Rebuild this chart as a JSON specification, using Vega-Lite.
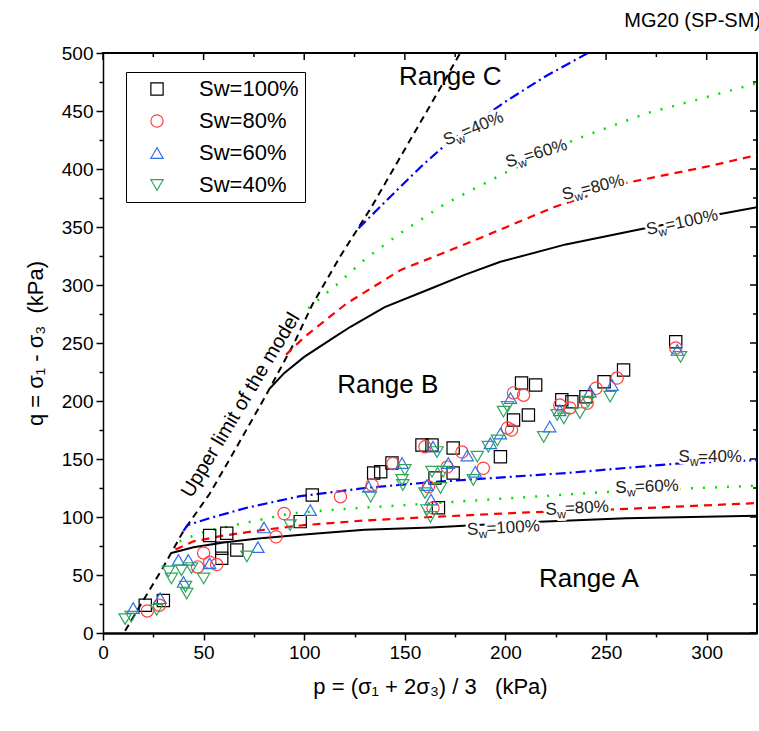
{
  "$schema": "https://vega.github.io/schema/vega-lite/v6.json",
  "width": 654,
  "height": 580,
  "autosize": {"type": "none"},
  "padding": {"left": 103, "top": 53, "right": 2, "bottom": 98},
  "background": "white",
  "config": {"font": "Liberation Sans", "view": {"stroke": null}},
  "title": {"text": "MG20 (SP-SM)", "anchor": "end", "fontSize": 20, "fontWeight": "normal", "color": "black", "offset": 13},
  "resolve": {"scale": {"x": "independent", "y": "independent"}, "axis": {"x": "independent", "y": "independent"}},
  "datasets": {
    "frame": [{"k": 1, "p": 0, "q": 500}, {"k": 2, "p": 325, "q": 500}, {"k": 3, "p": 325, "q": 0}],
    "topMajor": [{"p": 0, "q": 500}, {"p": 50, "q": 500}, {"p": 100, "q": 500}, {"p": 150, "q": 500}, {"p": 200, "q": 500}, {"p": 250, "q": 500}, {"p": 300, "q": 500}],
    "topMinor": [{"p": 25, "q": 500}, {"p": 75, "q": 500}, {"p": 125, "q": 500}, {"p": 175, "q": 500}, {"p": 225, "q": 500}, {"p": 275, "q": 500}],
    "rightMajor": [{"p": 325, "q": 0}, {"p": 325, "q": 50}, {"p": 325, "q": 100}, {"p": 325, "q": 150}, {"p": 325, "q": 200}, {"p": 325, "q": 250}, {"p": 325, "q": 300}, {"p": 325, "q": 350}, {"p": 325, "q": 400}, {"p": 325, "q": 450}, {"p": 325, "q": 500}],
    "rightMinor": [{"p": 325, "q": 25}, {"p": 325, "q": 75}, {"p": 325, "q": 125}, {"p": 325, "q": 175}, {"p": 325, "q": 225}, {"p": 325, "q": 275}, {"p": 325, "q": 325}, {"p": 325, "q": 375}, {"p": 325, "q": 425}, {"p": 325, "q": 475}],
    "upper": [
      {"p": 11, "q": 2}, {"p": 20, "q": 28}, {"p": 30, "q": 57}, {"p": 40, "q": 88}, {"p": 53, "q": 120},
      {"p": 65, "q": 156}, {"p": 81, "q": 205}, {"p": 95, "q": 250}, {"p": 104, "q": 283}, {"p": 118, "q": 325},
      {"p": 133, "q": 366}, {"p": 149, "q": 414}, {"p": 160, "q": 447}, {"p": 170, "q": 477}, {"p": 177.5, "q": 500}
    ],
    "c100": [
      {"seg": "u", "p": 83, "q": 211}, {"seg": "u", "p": 90, "q": 224}, {"seg": "u", "p": 100, "q": 238}, {"seg": "u", "p": 115, "q": 255},
      {"seg": "u", "p": 123, "q": 264}, {"seg": "u", "p": 140, "q": 281}, {"seg": "u", "p": 163, "q": 297}, {"seg": "u", "p": 180, "q": 309},
      {"seg": "u", "p": 197.5, "q": 320}, {"seg": "u", "p": 230, "q": 335}, {"seg": "u", "p": 267, "q": 348}, {"seg": "u", "p": 300, "q": 359},
      {"seg": "u", "p": 325, "q": 367},
      {"seg": "l", "p": 34, "q": 69}, {"seg": "l", "p": 45, "q": 74}, {"seg": "l", "p": 60, "q": 78}, {"seg": "l", "p": 80, "q": 82},
      {"seg": "l", "p": 100, "q": 85}, {"seg": "l", "p": 130, "q": 89}, {"seg": "l", "p": 163, "q": 91}, {"seg": "l", "p": 217, "q": 96},
      {"seg": "l", "p": 260, "q": 99}, {"seg": "l", "p": 325, "q": 101}
    ],
    "c80": [
      {"seg": "u", "p": 91, "q": 240}, {"seg": "u", "p": 100, "q": 255}, {"seg": "u", "p": 121, "q": 284}, {"seg": "u", "p": 148, "q": 313},
      {"seg": "u", "p": 184, "q": 338}, {"seg": "u", "p": 224, "q": 367}, {"seg": "u", "p": 260, "q": 388}, {"seg": "u", "p": 300, "q": 402},
      {"seg": "u", "p": 325, "q": 412},
      {"seg": "l", "p": 36, "q": 72}, {"seg": "l", "p": 45, "q": 79}, {"seg": "l", "p": 60, "q": 84}, {"seg": "l", "p": 80, "q": 89},
      {"seg": "l", "p": 100, "q": 93}, {"seg": "l", "p": 130, "q": 97}, {"seg": "l", "p": 163, "q": 100}, {"seg": "l", "p": 211, "q": 104},
      {"seg": "l", "p": 260, "q": 107}, {"seg": "l", "p": 325, "q": 112}
    ],
    "c60": [
      {"seg": "u", "p": 102, "q": 280}, {"seg": "u", "p": 111, "q": 293}, {"seg": "u", "p": 116, "q": 300}, {"seg": "u", "p": 130, "q": 322},
      {"seg": "u", "p": 148, "q": 345}, {"seg": "u", "p": 170, "q": 370}, {"seg": "u", "p": 199, "q": 396}, {"seg": "u", "p": 234, "q": 425},
      {"seg": "u", "p": 270, "q": 448}, {"seg": "u", "p": 300, "q": 462}, {"seg": "u", "p": 325, "q": 474},
      {"seg": "l", "p": 38, "q": 79}, {"seg": "l", "p": 45, "q": 84}, {"seg": "l", "p": 52, "q": 88}, {"seg": "l", "p": 68, "q": 94},
      {"seg": "l", "p": 93, "q": 103}, {"seg": "l", "p": 120, "q": 107}, {"seg": "l", "p": 148, "q": 110}, {"seg": "l", "p": 200, "q": 116},
      {"seg": "l", "p": 254, "q": 122}, {"seg": "l", "p": 325, "q": 127}
    ],
    "c40": [
      {"seg": "u", "p": 127, "q": 349}, {"seg": "u", "p": 148, "q": 385}, {"seg": "u", "p": 158, "q": 402}, {"seg": "u", "p": 169, "q": 419},
      {"seg": "u", "p": 199, "q": 457}, {"seg": "u", "p": 220, "q": 480}, {"seg": "u", "p": 241, "q": 500},
      {"seg": "l", "p": 40, "q": 88}, {"seg": "l", "p": 42, "q": 93}, {"seg": "l", "p": 53, "q": 99}, {"seg": "l", "p": 71.5, "q": 108},
      {"seg": "l", "p": 98, "q": 118}, {"seg": "l", "p": 130, "q": 125}, {"seg": "l", "p": 163, "q": 130}, {"seg": "l", "p": 231, "q": 138},
      {"seg": "l", "p": 285, "q": 146}, {"seg": "l", "p": 325, "q": 149}
    ],
    "pts": [
      {"sw": "Sw=100%", "p": 21, "q": 24}, {"sw": "Sw=100%", "p": 30, "q": 28}, {"sw": "Sw=100%", "p": 53, "q": 84}, {"sw": "Sw=100%", "p": 61.5, "q": 86},
      {"sw": "Sw=100%", "p": 59, "q": 73}, {"sw": "Sw=100%", "p": 59, "q": 64.5}, {"sw": "Sw=100%", "p": 66.5, "q": 71.6}, {"sw": "Sw=100%", "p": 98, "q": 96},
      {"sw": "Sw=100%", "p": 104, "q": 119}, {"sw": "Sw=100%", "p": 134.5, "q": 138}, {"sw": "Sw=100%", "p": 138, "q": 139}, {"sw": "Sw=100%", "p": 143.6, "q": 146.5},
      {"sw": "Sw=100%", "p": 158.5, "q": 162}, {"sw": "Sw=100%", "p": 163.5, "q": 162}, {"sw": "Sw=100%", "p": 165, "q": 133.6}, {"sw": "Sw=100%", "p": 166.7, "q": 108},
      {"sw": "Sw=100%", "p": 174, "q": 138}, {"sw": "Sw=100%", "p": 174, "q": 159.5}, {"sw": "Sw=100%", "p": 197.5, "q": 152}, {"sw": "Sw=100%", "p": 204, "q": 183.6},
      {"sw": "Sw=100%", "p": 208, "q": 215.5}, {"sw": "Sw=100%", "p": 215, "q": 213.8}, {"sw": "Sw=100%", "p": 211.4, "q": 188}, {"sw": "Sw=100%", "p": 228, "q": 201},
      {"sw": "Sw=100%", "p": 233, "q": 199.4}, {"sw": "Sw=100%", "p": 240, "q": 203.7}, {"sw": "Sw=100%", "p": 249, "q": 216.6}, {"sw": "Sw=100%", "p": 258.7, "q": 226.7},
      {"sw": "Sw=100%", "p": 284.6, "q": 251},
      {"sw": "Sw=80%", "p": 22, "q": 19}, {"sw": "Sw=80%", "p": 28, "q": 24}, {"sw": "Sw=80%", "p": 47, "q": 57}, {"sw": "Sw=80%", "p": 50, "q": 69},
      {"sw": "Sw=80%", "p": 53, "q": 61}, {"sw": "Sw=80%", "p": 56.5, "q": 59}, {"sw": "Sw=80%", "p": 86, "q": 83}, {"sw": "Sw=80%", "p": 90, "q": 103},
      {"sw": "Sw=80%", "p": 118, "q": 117.5}, {"sw": "Sw=80%", "p": 133.7, "q": 127.6}, {"sw": "Sw=80%", "p": 144, "q": 146}, {"sw": "Sw=80%", "p": 160, "q": 160.6},
      {"sw": "Sw=80%", "p": 161.7, "q": 126}, {"sw": "Sw=80%", "p": 164, "q": 107.7}, {"sw": "Sw=80%", "p": 171, "q": 143}, {"sw": "Sw=80%", "p": 178.4, "q": 156},
      {"sw": "Sw=80%", "p": 189, "q": 142}, {"sw": "Sw=80%", "p": 201, "q": 176.7}, {"sw": "Sw=80%", "p": 203, "q": 175}, {"sw": "Sw=80%", "p": 204, "q": 207},
      {"sw": "Sw=80%", "p": 209, "q": 205}, {"sw": "Sw=80%", "p": 227, "q": 196.6}, {"sw": "Sw=80%", "p": 232, "q": 194}, {"sw": "Sw=80%", "p": 240.6, "q": 198},
      {"sw": "Sw=80%", "p": 245, "q": 211}, {"sw": "Sw=80%", "p": 255.5, "q": 219.8}, {"sw": "Sw=80%", "p": 284.6, "q": 245.7},
      {"sw": "Sw=60%", "p": 15, "q": 21.5}, {"sw": "Sw=60%", "p": 28.4, "q": 30}, {"sw": "Sw=60%", "p": 37.5, "q": 63}, {"sw": "Sw=60%", "p": 42.4, "q": 63},
      {"sw": "Sw=60%", "p": 53, "q": 60}, {"sw": "Sw=60%", "p": 40, "q": 44}, {"sw": "Sw=60%", "p": 77, "q": 74}, {"sw": "Sw=60%", "p": 80, "q": 91},
      {"sw": "Sw=60%", "p": 103, "q": 106}, {"sw": "Sw=60%", "p": 132, "q": 126}, {"sw": "Sw=60%", "p": 148.6, "q": 146.5}, {"sw": "Sw=60%", "p": 161, "q": 127.6},
      {"sw": "Sw=60%", "p": 163, "q": 115}, {"sw": "Sw=60%", "p": 164, "q": 160.6}, {"sw": "Sw=60%", "p": 171.6, "q": 146.5}, {"sw": "Sw=60%", "p": 181, "q": 153},
      {"sw": "Sw=60%", "p": 185, "q": 139}, {"sw": "Sw=60%", "p": 192.5, "q": 163.6}, {"sw": "Sw=60%", "p": 197.5, "q": 172}, {"sw": "Sw=60%", "p": 202.5, "q": 202.6},
      {"sw": "Sw=60%", "p": 222, "q": 178}, {"sw": "Sw=60%", "p": 227, "q": 192}, {"sw": "Sw=60%", "p": 242, "q": 208}, {"sw": "Sw=60%", "p": 253, "q": 213.8},
      {"sw": "Sw=60%", "p": 285.4, "q": 244},
      {"sw": "Sw=40%", "p": 11, "q": 12}, {"sw": "Sw=40%", "p": 14, "q": 14}, {"sw": "Sw=40%", "p": 26.7, "q": 20}, {"sw": "Sw=40%", "p": 32.5, "q": 53},
      {"sw": "Sw=40%", "p": 34, "q": 47}, {"sw": "Sw=40%", "p": 39, "q": 54}, {"sw": "Sw=40%", "p": 41, "q": 40}, {"sw": "Sw=40%", "p": 41.6, "q": 34},
      {"sw": "Sw=40%", "p": 44, "q": 56}, {"sw": "Sw=40%", "p": 50, "q": 47}, {"sw": "Sw=40%", "p": 71.5, "q": 66}, {"sw": "Sw=40%", "p": 93, "q": 93},
      {"sw": "Sw=40%", "p": 133, "q": 117.5}, {"sw": "Sw=40%", "p": 148.6, "q": 132}, {"sw": "Sw=40%", "p": 150, "q": 140.5}, {"sw": "Sw=40%", "p": 149, "q": 127.6},
      {"sw": "Sw=40%", "p": 160, "q": 120.6}, {"sw": "Sw=40%", "p": 161, "q": 106}, {"sw": "Sw=40%", "p": 162.7, "q": 100}, {"sw": "Sw=40%", "p": 163.5, "q": 139},
      {"sw": "Sw=40%", "p": 166, "q": 156}, {"sw": "Sw=40%", "p": 167.7, "q": 125}, {"sw": "Sw=40%", "p": 169, "q": 139}, {"sw": "Sw=40%", "p": 184, "q": 132},
      {"sw": "Sw=40%", "p": 186, "q": 152}, {"sw": "Sw=40%", "p": 191.5, "q": 160.6}, {"sw": "Sw=40%", "p": 196, "q": 166}, {"sw": "Sw=40%", "p": 199, "q": 190.8},
      {"sw": "Sw=40%", "p": 201, "q": 195}, {"sw": "Sw=40%", "p": 219, "q": 169}, {"sw": "Sw=40%", "p": 225.7, "q": 188}, {"sw": "Sw=40%", "p": 229, "q": 185},
      {"sw": "Sw=40%", "p": 237, "q": 189.6}, {"sw": "Sw=40%", "p": 241, "q": 199.4}, {"sw": "Sw=40%", "p": 252, "q": 203.7}, {"sw": "Sw=40%", "p": 287, "q": 238}
    ],
    "ranges": [
      {"p": 172.6, "q": 472, "t": "Range C"},
      {"p": 141.5, "q": 207, "t": "Range B"},
      {"p": 241.5, "q": 39.7, "t": "Range A"}
    ],
    "note": [{"p": 68.4, "q": 196.5, "t": "Upper limit of the model"}],
    "labels": [
      {"id": "u40", "p": 170.6, "q": 420, "t": "=40%"},
      {"id": "u60", "p": 201, "q": 401, "t": "=60%"},
      {"id": "u80", "p": 228.9, "q": 373, "t": "=80%"},
      {"id": "u100", "p": 270.6, "q": 343, "t": "=100%"},
      {"id": "l40", "p": 286, "q": 147.4, "t": "=40%"},
      {"id": "l60", "p": 254.7, "q": 120.7, "t": "=60%"},
      {"id": "l80", "p": 220, "q": 101.7, "t": "=80%"},
      {"id": "l100", "p": 181, "q": 84.5, "t": "=100%"}
    ]
  },
  "layer": [
    {
      "data": {"name": "upper"},
      "mark": {"type": "line", "color": "black", "strokeWidth": 2, "strokeDash": [7, 5], "clip": true},
      "encoding": {
        "x": {"field": "p", "type": "quantitative", "scale": {"domain": [0, 325], "nice": false, "zero": false},
          "axis": {"orient": "bottom", "title": "p = (σ₁ + 2σ₃) / 3\u00a0\u00a0\u00a0(kPa)",
            "values": [0, 25, 50, 75, 100, 125, 150, 175, 200, 225, 250, 275, 300],
            "labelExpr": "datum.value % 50 === 0 ? datum.label : ''",
            "tickSize": {"condition": {"test": "datum.value % 50 === 0", "value": 7}, "value": 4},
            "grid": false, "domainColor": "black", "domainWidth": 2.5, "tickColor": "black", "tickWidth": 1.5,
            "labelFontSize": 19, "labelColor": "black", "labelPadding": 3, "labelFlush": false, "labelOverlap": false,
            "titleFontSize": 22, "titleFontWeight": "normal", "titleColor": "black", "titlePadding": 14}},
        "y": {"field": "q", "type": "quantitative", "scale": {"domain": [0, 500], "nice": false, "zero": false},
          "axis": {"orient": "left", "title": "q = σ₁ - σ₃\u00a0\u00a0(kPa)",
            "values": [0, 25, 50, 75, 100, 125, 150, 175, 200, 225, 250, 275, 300, 325, 350, 375, 400, 425, 450, 475, 500],
            "labelExpr": "datum.value % 50 === 0 ? datum.label : ''",
            "tickSize": {"condition": {"test": "datum.value % 50 === 0", "value": 7}, "value": 4},
            "grid": false, "domainColor": "black", "domainWidth": 1.5, "tickColor": "black", "tickWidth": 1.5,
            "labelFontSize": 19, "labelColor": "black", "labelPadding": 3, "labelFlush": false, "labelOverlap": false,
            "titleFontSize": 22, "titleFontWeight": "normal", "titleColor": "black", "titlePadding": 14}}
      }
    },
    {
      "data": {"name": "frame"},
      "mark": {"type": "line", "color": "black", "strokeWidth": 2, "strokeCap": "square"},
      "encoding": {
        "x": {"field": "p", "type": "quantitative", "scale": {"domain": [0, 325], "nice": false, "zero": false}, "axis": null},
        "y": {"field": "q", "type": "quantitative", "scale": {"domain": [0, 500], "nice": false, "zero": false}, "axis": null},
        "order": {"field": "k", "type": "quantitative"}
      }
    },
    {
      "data": {"name": "topMajor"},
      "mark": {"type": "point", "shape": "M0,0L0,2", "size": 49, "filled": false, "color": "black", "strokeWidth": 1.5, "opacity": 1},
      "encoding": {
        "x": {"field": "p", "type": "quantitative", "scale": {"domain": [0, 325], "nice": false, "zero": false}, "axis": null},
        "y": {"field": "q", "type": "quantitative", "scale": {"domain": [0, 500], "nice": false, "zero": false}, "axis": null}
      }
    },
    {
      "data": {"name": "topMinor"},
      "mark": {"type": "point", "shape": "M0,0L0,2", "size": 16, "filled": false, "color": "black", "strokeWidth": 1.5, "opacity": 1},
      "encoding": {
        "x": {"field": "p", "type": "quantitative", "scale": {"domain": [0, 325], "nice": false, "zero": false}, "axis": null},
        "y": {"field": "q", "type": "quantitative", "scale": {"domain": [0, 500], "nice": false, "zero": false}, "axis": null}
      }
    },
    {
      "data": {"name": "rightMajor"},
      "mark": {"type": "point", "shape": "M0,0L-2,0", "size": 49, "filled": false, "color": "black", "strokeWidth": 1.5, "opacity": 1},
      "encoding": {
        "x": {"field": "p", "type": "quantitative", "scale": {"domain": [0, 325], "nice": false, "zero": false}, "axis": null},
        "y": {"field": "q", "type": "quantitative", "scale": {"domain": [0, 500], "nice": false, "zero": false}, "axis": null}
      }
    },
    {
      "data": {"name": "rightMinor"},
      "mark": {"type": "point", "shape": "M0,0L-2,0", "size": 16, "filled": false, "color": "black", "strokeWidth": 1.5, "opacity": 1},
      "encoding": {
        "x": {"field": "p", "type": "quantitative", "scale": {"domain": [0, 325], "nice": false, "zero": false}, "axis": null},
        "y": {"field": "q", "type": "quantitative", "scale": {"domain": [0, 500], "nice": false, "zero": false}, "axis": null}
      }
    },
    {
      "data": {"name": "c100"},
      "mark": {"type": "line", "color": "black", "strokeWidth": 2, "clip": true},
      "encoding": {
        "x": {"field": "p", "type": "quantitative", "scale": {"domain": [0, 325], "nice": false, "zero": false}, "axis": null},
        "y": {"field": "q", "type": "quantitative", "scale": {"domain": [0, 500], "nice": false, "zero": false}, "axis": null},
        "detail": {"field": "seg", "type": "nominal"}
      }
    },
    {
      "data": {"name": "c80"},
      "mark": {"type": "line", "color": "#ff0000", "strokeWidth": 2.2, "strokeDash": [8, 6], "clip": true},
      "encoding": {
        "x": {"field": "p", "type": "quantitative", "scale": {"domain": [0, 325], "nice": false, "zero": false}, "axis": null},
        "y": {"field": "q", "type": "quantitative", "scale": {"domain": [0, 500], "nice": false, "zero": false}, "axis": null},
        "detail": {"field": "seg", "type": "nominal"}
      }
    },
    {
      "data": {"name": "c60"},
      "mark": {"type": "line", "color": "#00e000", "strokeWidth": 2.5, "strokeDash": [2, 10], "clip": true},
      "encoding": {
        "x": {"field": "p", "type": "quantitative", "scale": {"domain": [0, 325], "nice": false, "zero": false}, "axis": null},
        "y": {"field": "q", "type": "quantitative", "scale": {"domain": [0, 500], "nice": false, "zero": false}, "axis": null},
        "detail": {"field": "seg", "type": "nominal"}
      }
    },
    {
      "data": {"name": "c40"},
      "mark": {"type": "line", "color": "#0000ff", "strokeWidth": 2.2, "strokeDash": [10, 4, 2, 4], "clip": true},
      "encoding": {
        "x": {"field": "p", "type": "quantitative", "scale": {"domain": [0, 325], "nice": false, "zero": false}, "axis": null},
        "y": {"field": "q", "type": "quantitative", "scale": {"domain": [0, 500], "nice": false, "zero": false}, "axis": null},
        "detail": {"field": "seg", "type": "nominal"}
      }
    },
    {
      "data": {"name": "pts"},
      "mark": {"type": "point", "filled": false, "size": 150, "strokeWidth": 1.2, "opacity": 1, "clip": true},
      "encoding": {
        "x": {"field": "p", "type": "quantitative", "scale": {"domain": [0, 325], "nice": false, "zero": false}, "axis": null},
        "y": {"field": "q", "type": "quantitative", "scale": {"domain": [0, 500], "nice": false, "zero": false}, "axis": null},
        "shape": {"field": "sw", "type": "nominal",
          "scale": {"domain": ["Sw=100%", "Sw=80%", "Sw=60%", "Sw=40%"], "range": ["square", "circle", "triangle-up", "triangle-down"]},
          "legend": {"title": null, "orient": "none", "legendX": 23, "legendY": 19, "padding": 6, "strokeColor": "black", "fillColor": "white",
            "labelFontSize": 22, "labelColor": "black", "symbolSize": 150, "symbolStrokeWidth": 1.2, "symbolOffset": 14, "labelOffset": 31, "rowPadding": 10,
            "labelExpr": "datum.label + '\u00a0\u00a0'"}},
        "color": {"field": "sw", "type": "nominal",
          "scale": {"domain": ["Sw=100%", "Sw=80%", "Sw=60%", "Sw=40%"], "range": ["#000000", "#ff4040", "#2e6fe8", "#2fa55a"]},
          "legend": {"title": null, "orient": "none", "legendX": 23, "legendY": 19, "padding": 6, "strokeColor": "black", "fillColor": "white",
            "labelFontSize": 22, "labelColor": "black", "symbolSize": 150, "symbolStrokeWidth": 1.2, "symbolOffset": 14, "labelOffset": 31, "rowPadding": 10,
            "labelExpr": "datum.label + '\u00a0\u00a0'"}}
      }
    },
    {
      "data": {"name": "ranges"},
      "mark": {"type": "text", "fontSize": 26, "align": "center", "baseline": "alphabetic", "color": "black"},
      "encoding": {
        "x": {"field": "p", "type": "quantitative", "scale": {"domain": [0, 325], "nice": false, "zero": false}, "axis": null},
        "y": {"field": "q", "type": "quantitative", "scale": {"domain": [0, 500], "nice": false, "zero": false}, "axis": null},
        "text": {"field": "t"}
      }
    },
    {
      "data": {"name": "note"},
      "mark": {"type": "text", "fontSize": 20, "align": "center", "baseline": "middle", "angle": -59, "color": "black"},
      "encoding": {
        "x": {"field": "p", "type": "quantitative", "scale": {"domain": [0, 325], "nice": false, "zero": false}, "axis": null},
        "y": {"field": "q", "type": "quantitative", "scale": {"domain": [0, 500], "nice": false, "zero": false}, "axis": null},
        "text": {"field": "t"}
      }
    },
    {
      "data": {"name": "labels"},
      "encoding": {
        "x": {"field": "p", "type": "quantitative", "scale": {"domain": [0, 325], "nice": false, "zero": false}, "axis": null},
        "y": {"field": "q", "type": "quantitative", "scale": {"domain": [0, 500], "nice": false, "zero": false}, "axis": null},
        "angle": {"field": "id", "type": "nominal", "legend": null,
          "scale": {"type": "ordinal", "domain": ["u40", "u60", "u80", "u100", "l40", "l60", "l80", "l100"], "range": [-23, -17, -14, -12, 0, -2, -3, -3]}}
      },
      "layer": [
        {"mark": {"type": "text", "text": "S", "fontSize": 17, "align": "left", "baseline": "alphabetic", "stroke": "white", "strokeWidth": 5, "color": "white"}},
        {"mark": {"type": "text", "text": "w", "fontSize": 12, "align": "left", "baseline": "alphabetic", "dx": 11.5, "dy": 4, "stroke": "white", "strokeWidth": 5, "color": "white"}},
        {"mark": {"type": "text", "fontSize": 17, "align": "left", "baseline": "alphabetic", "dx": 19.5, "stroke": "white", "strokeWidth": 5, "color": "white"}, "encoding": {"text": {"field": "t"}}},
        {"mark": {"type": "text", "text": "S", "fontSize": 17, "align": "left", "baseline": "alphabetic", "color": "#222222"}},
        {"mark": {"type": "text", "text": "w", "fontSize": 12, "align": "left", "baseline": "alphabetic", "dx": 11.5, "dy": 4, "color": "#222222"}},
        {"mark": {"type": "text", "fontSize": 17, "align": "left", "baseline": "alphabetic", "dx": 19.5, "color": "#222222"}, "encoding": {"text": {"field": "t"}}}
      ]
    }
  ]
}
